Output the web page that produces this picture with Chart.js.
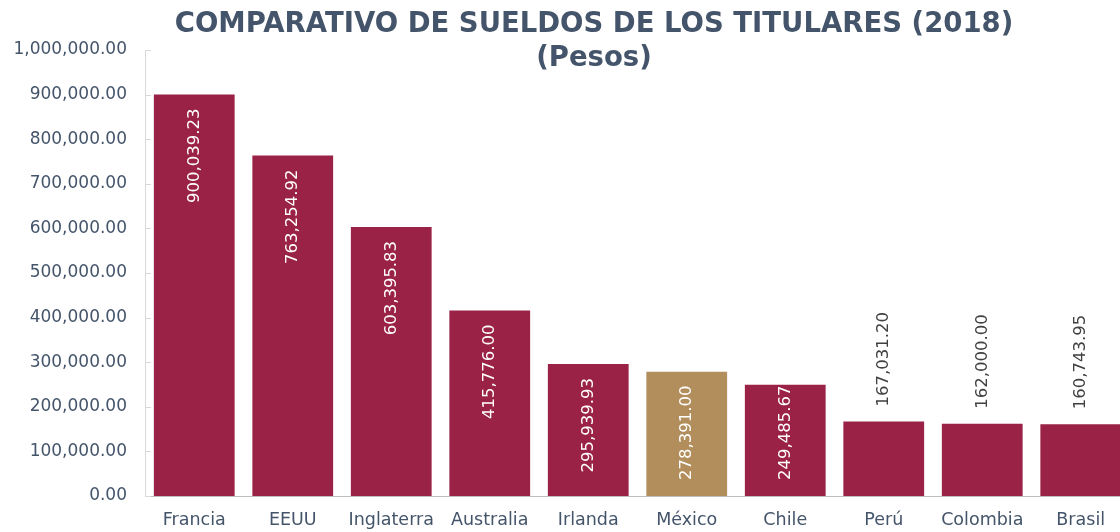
<!DOCTYPE html>
<html>
<head>
<meta charset="utf-8">
<script src="https://cdn.jsdelivr.net/npm/chart.js@4"></script>
<style>
  html, body { margin: 0; padding: 0; background: #ffffff; overflow: hidden; }
  #wrap { width: 1188px; height: 532px; }
</style>
</head>
<body>
<div id="wrap"><canvas id="c" width="1188" height="532"></canvas></div>
<script>
// Countries and head-of-state salaries in pesos (2018)
const categories = ['Francia', 'EEUU', 'Inglaterra', 'Australia', 'Irlanda', 'México', 'Chile', 'Perú', 'Colombia', 'Brasil'];
const salaries = [900039.23, 763254.92, 603395.83, 415776.00, 295939.93, 278391.00, 249485.67, 167031.20, 162000.00, 160743.95];
const highlighted = 'México';
const yMin = 0;
const yMax = 1000000;
const yStep = 100000;
const titleLines = ['COMPARATIVO DE SUELDOS DE LOS TITULARES (2018)', '(Pesos)'];

const GUINDA = '#9B2247';
const DORADO = '#B38E5D';
const SLATE = '#44546A';
const FONT = '"DejaVu Sans", sans-serif';

const fmt = v => v.toLocaleString('en-US', { minimumFractionDigits: 2, maximumFractionDigits: 2 });

// Title drawn over the top of the canvas without taking layout space
const titlePlugin = {
  id: 'topTitle',
  afterDraw(chart) {
    const ctx = chart.ctx;
    ctx.save();
    ctx.fillStyle = SLATE;
    ctx.font = 'bold 27.5px ' + FONT;
    ctx.textAlign = 'center';
    ctx.textBaseline = 'middle';
    ctx.fillText(titleLines[0], 594, 25);
    ctx.fillText(titleLines[1], 594, 59);
    ctx.restore();
  }
};

// Small inward tick marks on the value axis
const yTickMarks = {
  id: 'yTickMarks',
  afterDraw(chart) {
    const ctx = chart.ctx;
    const y = chart.scales.y;
    const left = chart.chartArea.left;
    ctx.save();
    ctx.strokeStyle = '#D9D9D9';
    ctx.lineWidth = 1;
    y.ticks.forEach(t => {
      const py = Math.round(y.getPixelForValue(t.value)) + 0.5;
      ctx.beginPath();
      ctx.moveTo(left, py);
      ctx.lineTo(left + 6, py);
      ctx.stroke();
    });
    ctx.restore();
  }
};

// Rotated value labels: inside the bar top when they fit, above it otherwise
const valueLabels = {
  id: 'valueLabels',
  afterDatasetsDraw(chart) {
    const ctx = chart.ctx;
    const meta = chart.getDatasetMeta(0);
    ctx.save();
    ctx.font = '16.5px ' + FONT;
    ctx.textBaseline = 'middle';
    ctx.textAlign = 'left';
    meta.data.forEach((bar, i) => {
      const text = fmt(salaries[i]);
      const w = ctx.measureText(text).width;
      const h = bar.base - bar.y;
      let start, color;
      if (w < h) {
        start = Math.min(bar.y + 14 + w, bar.base - 16);
        color = '#FFFFFF';
      } else {
        start = bar.y - 15;
        color = '#404040';
      }
      ctx.save();
      ctx.translate(bar.x, start);
      ctx.rotate(-Math.PI / 2);
      ctx.fillStyle = color;
      ctx.fillText(text, 0, 0);
      ctx.restore();
    });
    ctx.restore();
  }
};

new Chart(document.getElementById('c'), {
  type: 'bar',
  data: {
    labels: categories,
    datasets: [{
      data: salaries,
      backgroundColor: categories.map(c => c === highlighted ? DORADO : GUINDA),
      borderWidth: 0,
      barPercentage: 0.82,
      categoryPercentage: 1.0
    }]
  },
  options: {
    responsive: false,
    animation: false,
    layout: { padding: { top: 50, right: 58, bottom: 0, left: 0 } },
    plugins: {
      legend: { display: false },
      title: { display: false },
      tooltip: { enabled: false }
    },
    scales: {
      x: {
        grid: { display: false, drawTicks: false },
        border: { display: true, color: '#BFBFBF', width: 1 },
        ticks: { color: SLATE, font: { family: FONT, size: 17.5 }, padding: 14, maxRotation: 0, autoSkip: false },
        afterFit(scale) { scale.height = 36; }
      },
      y: {
        min: yMin,
        max: yMax,
        grid: { display: false, drawTicks: false },
        border: { display: true, color: '#D9D9D9', width: 1 },
        ticks: {
          stepSize: yStep,
          color: SLATE,
          font: { family: FONT, size: 17 },
          padding: 18,
          callback: v => fmt(v)
        },
        afterFit(scale) { scale.width = 145; }
      }
    }
  },
  plugins: [titlePlugin, yTickMarks, valueLabels]
});
</script>
</body>
</html>
